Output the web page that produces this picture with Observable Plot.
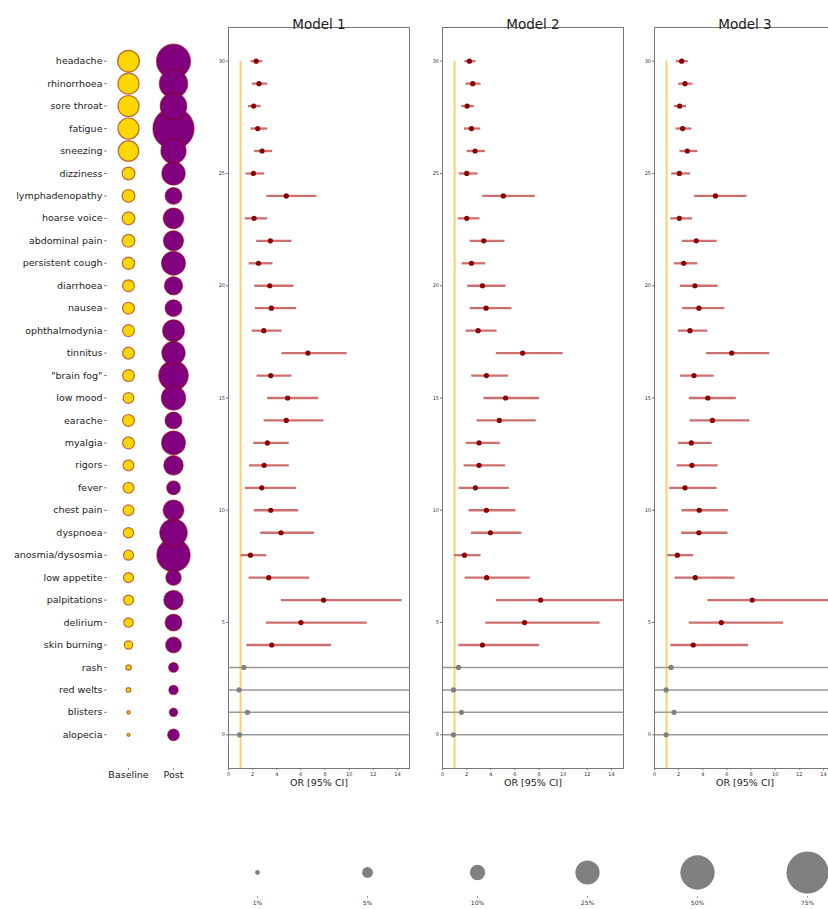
<!DOCTYPE html>
<html>
<head>
<meta charset="utf-8">
<script src="https://cdn.jsdelivr.net/npm/d3@7"></script>
<script src="https://cdn.jsdelivr.net/npm/@observablehq/plot@0.6"></script>
<style>
  html, body { margin: 0; padding: 0; background: #fff; }
  #wrap { position: relative; width: 828px; height: 909px; overflow: hidden; font-family: "DejaVu Sans", sans-serif; }
  .panel { position: absolute; top: 0; }
  .panel svg { overflow: visible; max-width: none !important; }
</style>
</head>
<body>
<div id="wrap"></div>
<script>
const symptoms = ["headache","rhinorrhoea","sore throat","fatigue","sneezing","dizziness","lymphadenopathy","hoarse voice","abdominal pain","persistent cough","diarrhoea","nausea","ophthalmodynia","tinnitus","\"brain fog\"","low mood","earache","myalgia","rigors","fever","chest pain","dyspnoea","anosmia/dysosmia","low appetite","palpitations","delirium","skin burning","rash","red welts","blisters","alopecia"];

// prevalence (%) at baseline and post
const baselinePct = [20,19,19,19,18,7,7,7,7,6.5,6,6,6,6,6,5,6,6,5,5,5,4.6,4.3,4.3,4.3,3.8,3,1.2,0.9,0.5,0.4];
const postPct = [49,34,30,72,27,23,12,18,17,24,14,12,20,23,37,25,12,24,16,8,18,32,47,10,16,12,10.5,4,3.7,3,5.8];

// Model 1
const m1OR = [2.29,2.53,2.09,2.42,2.78,2.07,4.79,2.12,3.47,2.48,3.42,3.55,2.92,6.58,3.5,4.9,4.79,3.22,2.95,2.75,3.5,4.35,1.82,3.33,7.88,6.0,3.58,1.27,0.88,1.57,0.91];
const m1Lo = [1.87,1.98,1.65,1.87,2.15,1.46,3.17,1.4,2.34,1.71,2.18,2.23,1.96,4.44,2.37,3.25,2.95,2.09,1.74,1.4,2.15,2.67,1.05,1.71,4.38,3.14,1.52,null,null,null,null];
const m1Hi = [2.84,3.25,2.7,3.25,3.66,3.0,7.33,3.25,5.26,3.69,5.43,5.65,4.44,9.83,5.26,7.47,7.9,5.04,5.04,5.62,5.81,7.13,3.17,6.72,14.38,11.49,8.54,null,null,null,null];
// Model 2
const m2OR = [2.23,2.51,2.04,2.4,2.7,2.01,5.04,2.01,3.42,2.4,3.31,3.61,2.95,6.64,3.64,5.23,4.71,3.03,3.03,2.73,3.64,3.97,1.82,3.66,8.13,6.8,3.31,1.32,0.91,1.57,0.91];
const m2Lo = [1.85,1.96,1.6,1.82,2.04,1.4,3.33,1.32,2.29,1.63,2.09,2.29,1.96,4.46,2.42,3.44,2.87,1.96,1.79,1.38,2.2,2.4,1.02,1.87,4.46,3.58,1.35,null,null,null,null];
const m2Hi = [2.78,3.2,2.64,3.17,3.55,2.95,7.69,3.11,5.18,3.58,5.26,5.76,4.52,10.0,5.48,8.04,7.77,4.79,5.23,5.54,6.09,6.58,3.2,7.27,15.6,13.06,8.04,null,null,null,null];
// Model 3
const m3OR = [2.25,2.53,2.09,2.33,2.72,2.06,5.05,2.06,3.46,2.42,3.35,3.68,2.94,6.4,3.27,4.42,4.8,3.05,3.1,2.53,3.71,3.68,1.89,3.38,8.1,5.54,3.21,1.37,0.96,1.62,0.96];
const m3Lo = [1.81,2.0,1.65,1.78,2.11,1.43,3.32,1.35,2.31,1.65,2.14,2.33,1.98,4.31,2.17,2.88,2.94,1.98,1.87,1.26,2.28,2.25,1.1,1.7,4.42,2.88,1.35,null,null,null,null];
const m3Hi = [2.8,3.18,2.66,3.1,3.6,2.99,7.66,3.16,5.19,3.6,5.27,5.82,4.42,9.55,4.94,6.78,7.9,4.78,5.27,5.19,6.12,6.09,3.24,6.67,14.8,10.7,7.8,null,null,null,null];

const modelTitles = ["Model 1","Model 2","Model 3"];
const xTicks = [0,2,4,6,8,10,12,14];
const yTicks = [0,5,10,15,20,25,30];
const legendPct = [1,5,10,25,50,75];
const groupLabels = ["Baseline","Post"];

const wrap = document.getElementById("wrap");
const font = {fontFamily: "DejaVu Sans, sans-serif", background: "transparent", color: "#333", maxWidth: "none"};
const rScale = {type: "sqrt", domain: [0, 75], range: [0, 21]};
const yDomain = [-1.5, 31.5];

function place(svg, left, top) {
  const d = document.createElement("div");
  d.className = "panel";
  d.style.left = left + "px";
  d.style.top = top + "px";
  d.appendChild(svg);
  wrap.appendChild(d);
}

// Left bubble chart
const rows = symptoms.map((s, i) => ({name: s, y: 30 - i, base: baselinePct[i], post: postPct[i]}));
const left = Plot.plot({
  width: 215, height: 800,
  marginTop: 27, marginBottom: 32, marginLeft: 107, marginRight: 10,
  style: font,
  x: {type: "point", domain: groupLabels, range: [128, 173], padding: 0},
  y: {domain: yDomain},
  r: rScale,
  marks: [
    Plot.dot(rows, {x: () => groupLabels[0], y: "y", r: "base", fill: "#FFD700", stroke: "#8B0000", strokeOpacity: 0.55, strokeWidth: 1.2}),
    Plot.dot(rows, {x: () => groupLabels[1], y: "y", r: "post", fill: "#800080", stroke: "#8B0000", strokeOpacity: 0.55, strokeWidth: 1.2}),
    Plot.axisY({ticks: d3.range(0, 31), tickFormat: v => symptoms[30 - v], tickSize: 3, tickPadding: 2, fontSize: 9.5, label: null, fill: "#222", stroke: "#888"}),
    Plot.axisX({tickSize: 2, tickPadding: 1, fontSize: 9.5, label: null, fill: "#222", stroke: "#888"})
  ]
});
place(left, 0, 0);

function forest(title, or, lo, hi) {
  const data = symptoms.map((s, i) => ({y: 30 - i, or: or[i], lo: lo[i], hi: hi[i]}));
  const ci = data.filter(d => d.lo != null);
  const skin = data.filter(d => d.lo == null);
  return Plot.plot({
    width: 210, height: 800,
    marginTop: 27, marginBottom: 32, marginLeft: 20, marginRight: 9,
    style: font,
    x: {domain: [0, 15]},
    y: {domain: yDomain},
    marks: [
      Plot.ruleY(skin, {y: "y", stroke: "#999", strokeWidth: 1.5}),
      Plot.ruleX([1], {x: d => d, y1: () => 30, y2: () => -1.5, stroke: "#FFA500", strokeOpacity: 0.55, strokeWidth: 2}),
      Plot.ruleY(ci, {y: "y", x1: "lo", x2: "hi", stroke: "#b22222", strokeOpacity: 0.65, strokeWidth: 2.3, clip: true}),
      Plot.dot(ci, {x: "or", y: "y", r: 2.6, fill: "#8B0000"}),
      Plot.dot(skin, {x: "or", y: "y", r: 2.6, fill: "#808080"}),
      Plot.frame({stroke: "#777"}),
      Plot.axisX({ticks: xTicks, tickSize: 2, tickPadding: 1.5, fontSize: 5, label: null, stroke: "#777"}),
      Plot.axisY({ticks: yTicks, tickSize: 2, tickPadding: 1.5, fontSize: 5, label: null, stroke: "#777"}),
      Plot.text([title], {frameAnchor: "top", dy: -8, text: d => d, fontSize: 13.5, fill: "#222"}),
      Plot.text(["OR [95% CI]"], {frameAnchor: "bottom", dy: 17, text: d => d, fontSize: 9.5, fill: "#222"})
    ]
  });
}

place(forest(modelTitles[0], m1OR, m1Lo, m1Hi), 208.3, 0);
place(forest(modelTitles[1], m2OR, m2Lo, m2Hi), 421.7, 0);
place(forest(modelTitles[2], m3OR, m3Lo, m3Hi), 634.3, 0);

// Size legend
const legend = Plot.plot({
  width: 828, height: 69,
  marginTop: 8, marginBottom: 13, marginLeft: 0, marginRight: 0,
  style: font,
  x: {type: "point", domain: legendPct.map(p => p + "%"), range: [256, 808], padding: 0},
  r: rScale,
  marks: [
    Plot.dot(legendPct, {x: d => d + "%", r: d => d, fill: "#808080"}),
    Plot.axisX({tickSize: 2, tickPadding: 2, fontSize: 6, label: null, stroke: "#999", fill: "#333"})
  ]
});
place(legend, 0, 840);
</script>
</body>
</html>
